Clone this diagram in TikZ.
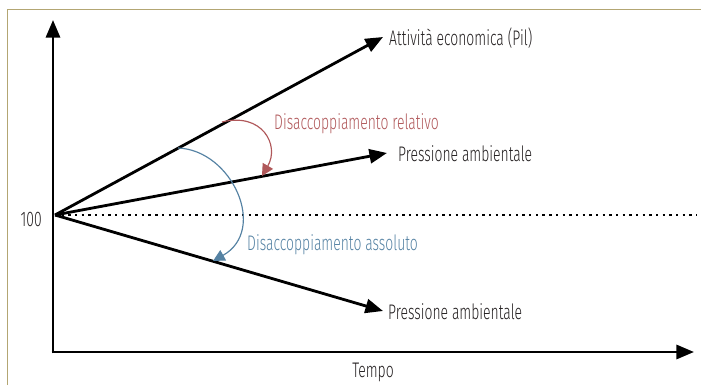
\documentclass[tikz,border=0pt]{standalone}
\usepackage{fontspec}
\setmainfont{Fira Sans}[UprightFont=* Light,FakeStretch=0.66]
\usetikzlibrary{arrows.meta}
\definecolor{rosso}{HTML}{B0585A}
\definecolor{blu}{HTML}{5582A3}
\definecolor{cornice}{HTML}{B3A673}
\definecolor{testogrigio}{HTML}{231F20}
\begin{document}
\begin{tikzpicture}[x=0.3mm,y=-0.3mm,
        freccia/.style={line width=2.4pt,-{Triangle[length=15pt,width=12pt]}},
        curva/.style={line width=1pt,-{Triangle[length=10pt,width=10pt]}},
        etichetta/.style={font=\fontsize{18}{20}\selectfont,text=testogrigio,inner sep=0pt}]
            \useasboundingbox (0,0) rectangle (701,385);
            \draw[cornice,line width=1.3pt] (7.5,385) -- (7.5,9.5) -- (701,9.5);
            \coordinate (o) at (55,215);
            \coordinate (c) at (53,352);
            \coordinate (yt) at (53,20);
            \coordinate (xt) at (694,352);
            \coordinate (p) at (383,37);
            \coordinate (m) at (387,153);
            \coordinate (b) at (383,311);
            \draw[freccia] ([yshift=-1.2pt]c) -- (yt);
            \draw[freccia] ([xshift=-1.2pt]c) -- (xt);
            \draw[line width=2pt,dash pattern=on 2pt off 3.7pt] (o) -- (697,215);
            \draw[freccia] (o) -- (p);
            \draw[freccia] (o) -- (m);
            \draw[freccia] (o) -- (b);
            \node[etichetta,anchor=west] (pil) at (389,38) {Attività economica (Pil)};
            \node[etichetta,anchor=west] (pa) at (398,154) {Pressione ambientale};
            \node[etichetta,anchor=west] (pb) at (388,312) {Pressione ambientale};
            \node[etichetta] (t) at (373,372) {Tempo};
            \node[etichetta,anchor=east] (cento) at (42,219) {100};
            \coordinate (r1) at (222,122);
            \coordinate (r2) at (262,176);
            \coordinate (b1) at (178,148);
            \coordinate (b2) at (213,261);
            \draw[curva,rosso] (r1) .. controls (262,112) and (280,145) .. (r2);
            \draw[curva,blu] (b1) .. controls (232,150) and (268,230) .. (b2);
            \node[etichetta,text=rosso,anchor=west] (rel) at (274,124) {Disaccoppiamento relativo};
            \node[etichetta,text=blu,anchor=west] (ass) at (247,245) {Disaccoppiamento assoluto};
        \end{tikzpicture}
\end{document}
